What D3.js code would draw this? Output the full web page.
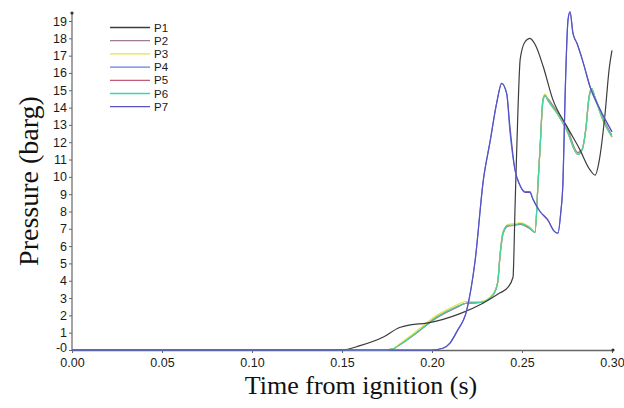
<!DOCTYPE html>
<html>
<head>
<meta charset="utf-8">
<script src="https://cdn.jsdelivr.net/npm/d3@7"></script>
<style>
    body { margin: 0; background: #fff; }
    svg { display: block; }
    .tick text { font-family: Arial, "Liberation Sans", sans-serif; font-size: 12.5px; fill: #1a1a1a; }
    .title { font-family: "Times New Roman", "Liberation Serif", serif; fill: #111; }
</style>
</head>
<body>
<svg id="svg" width="624" height="408"></svg>
<script>
// series names and colours
const seriesNames = ['P1', 'P2', 'P3', 'P4', 'P5', 'P6', 'P7']
const seriesColors = ['#3c3c3c', '#9c7a98', '#e4e43c', '#5a80e0', '#c25a7a', '#3ed6a6', '#5a50c2']

// time samples (s)
const timeP1 = [0, 0.15, 0.16, 0.173, 0.182, 0.188, 0.197, 0.2156, 0.2283, 0.2378, 0.242, 0.245, 0.2462, 0.2478, 0.249, 0.2517, 0.2544, 0.2575, 0.2617, 0.267, 0.275, 0.282, 0.2878, 0.2906, 0.293, 0.296, 0.2985, 0.3]
const timeGreen = [0, 0.172, 0.178, 0.182, 0.1915, 0.2026, 0.2137, 0.219, 0.227, 0.234, 0.2365, 0.2378, 0.2395, 0.2422, 0.2455, 0.2489, 0.2544, 0.2572, 0.259, 0.26, 0.2617, 0.2628, 0.2645, 0.2693, 0.2748, 0.281, 0.2835, 0.2855, 0.2872, 0.2887, 0.2905, 0.2945, 0.3]
const timeBlue = [0, 0.2, 0.206, 0.21, 0.214, 0.2193, 0.224, 0.2285, 0.2322, 0.236, 0.2387, 0.2415, 0.2433, 0.2461, 0.2489, 0.2517, 0.2544, 0.2561, 0.26, 0.2644, 0.268, 0.27, 0.2715, 0.2728, 0.2739, 0.2756, 0.2767, 0.2783, 0.2806, 0.284, 0.2878, 0.2933, 0.3]

// pressure (barg)
const pressureP1 = [0, 0, 0.25, 0.75, 1.3, 1.45, 1.55, 2.1, 2.7, 3.3, 3.6, 4.2, 8.5, 14, 16.8, 17.8, 18.0, 17.6, 16.4, 14.5, 12.9, 11.6, 10.4, 10.1, 11, 13.5, 16.3, 17.3]
const pressureP2 = [0, 0, 0.05, 0.3, 1.0, 1.85, 2.45, 2.7, 2.75, 3.2, 3.9, 5.4, 6.7, 7.15, 7.2, 7.25, 7.0, 6.8, 9.8, 11.6, 14.4, 14.7, 14.5, 13.8, 12.9, 11.4, 11.6, 12.8, 14.5, 15.0, 14.6, 13.5, 12.4]
const pressureP3 = [0, 0, 0.05, 0.35, 1.1, 2.0, 2.6, 2.8, 2.8, 3.25, 3.9, 5.5, 6.8, 7.25, 7.3, 7.35, 7.1, 6.85, 9.8, 11.6, 14.5, 14.8, 14.4, 13.7, 12.7, 11.3, 11.6, 12.8, 14.6, 15.1, 14.6, 13.4, 12.3]
const pressureP4 = [0, 0, 0.1, 0.4, 1.1, 2.3, 5.2, 9.8, 12.0, 14.3, 15.4, 14.8, 12.6, 10.4, 9.5, 9.15, 9.15, 8.7, 8.0, 7.5, 6.85, 6.75, 7.9, 9.8, 14.5, 19.1, 19.5, 18.3, 17.7, 16.6, 15.2, 13.9, 12.6]
const pressureP5 = [0, 0, 0.05, 0.3, 1.0, 1.9, 2.5, 2.7, 2.75, 3.2, 3.9, 5.5, 6.8, 7.2, 7.2, 7.3, 7.05, 6.8, 9.8, 11.6, 14.5, 14.7, 14.4, 13.7, 12.7, 11.3, 11.6, 12.8, 14.6, 15.1, 14.6, 13.4, 12.3]
const pressureP6 = [0, 0, 0.05, 0.3, 1.0, 1.9, 2.5, 2.7, 2.75, 3.2, 3.9, 5.5, 6.8, 7.2, 7.2, 7.3, 7.05, 6.8, 9.8, 11.6, 14.5, 14.7, 14.4, 13.7, 12.7, 11.3, 11.6, 12.8, 14.6, 15.1, 14.6, 13.4, 12.3]
const pressureP7 = [0, 0, 0.1, 0.4, 1.1, 2.3, 5.2, 9.8, 12.0, 14.3, 15.4, 14.8, 12.9, 10.4, 9.5, 9.1, 9.1, 8.7, 8.0, 7.5, 6.85, 6.75, 7.9, 9.8, 14.5, 19.1, 19.55, 18.3, 17.7, 16.6, 15.2, 13.9, 12.6]

// tick values
const xTicks = [0, 0.05, 0.1, 0.15, 0.2, 0.25, 0.3]
const yTicks = d3.range(0, 20)

const series = [
    { name: 'P1', t: timeP1, p: pressureP1 },
    { name: 'P2', t: timeGreen, p: pressureP2 },
    { name: 'P3', t: timeGreen, p: pressureP3 },
    { name: 'P4', t: timeBlue, p: pressureP4 },
    { name: 'P5', t: timeGreen, p: pressureP5 },
    { name: 'P6', t: timeGreen, p: pressureP6 },
    { name: 'P7', t: timeBlue, p: pressureP7 },
]

const svg = d3.select('#svg')
const margin = { top: 13, right: 11, bottom: 58, left: 72 }
const width = 624
const height = 408

const xScale = d3.scaleLinear()
    .domain([0, 0.3])
    .range([margin.left, width - margin.right - 1])

const yScale = d3.scaleLinear()
    .domain([0, 19])
    .range([350, 21])

const axisColor = '#666'

// Axes
const xAxis = svg.append('g')
    .attr('transform', `translate(0,350)`)
    .call(d3.axisBottom(xScale).tickValues(xTicks).tickFormat(d3.format('.2f')).tickSize(3).tickSizeOuter(0).tickPadding(5))
xAxis.select('.domain').attr('stroke', axisColor).attr('stroke-width', 1.5)
xAxis.selectAll('.tick line').attr('stroke', axisColor)

const yAxis = svg.append('g')
    .attr('transform', `translate(${margin.left},0)`)
    .call(d3.axisLeft(yScale).tickValues(yTicks).tickFormat((d) => d === 0 ? '-0' : d).tickSize(3).tickSizeOuter(0).tickPadding(2))
yAxis.select('.domain').remove()
yAxis.selectAll('.tick line').attr('stroke', axisColor)
yAxis.selectAll('.tick').filter((d) => d === 0).select('text').attr('dy', '0.1em')
yAxis.append('line')
    .attr('y1', 350).attr('y2', margin.top)
    .attr('stroke', axisColor).attr('stroke-width', 1.2)

// little end markers
svg.append('circle').attr('cx', margin.left).attr('cy', margin.top).attr('r', 1.6).attr('fill', '#333')
svg.append('circle').attr('cx', xScale(0.3) + 1).attr('cy', 350).attr('r', 1.6).attr('fill', '#333')

// Lines
const line = d3.line()
    .x((d) => xScale(d[0]))
    .y((d) => yScale(d[1]))
    .curve(d3.curveMonotoneX)

const drawOrder = ['P2', 'P5', 'P3', 'P6', 'P1', 'P4', 'P7']
drawOrder.forEach((name) => {
    const s = series.find((e) => e.name === name)
    const i = seriesNames.indexOf(name)
    svg.append('path')
        .datum(s.t.map((t, k) => [t, s.p[k]]))
        .attr('fill', 'none')
        .attr('stroke', seriesColors[i])
        .attr('stroke-width', 1.2)
        .attr('d', line)
})

// Legend
const legend = svg.append('g').attr('transform', 'translate(110,27.5)')
seriesNames.forEach((name, i) => {
    const row = legend.append('g').attr('transform', `translate(0,${i * 13.2})`)
    row.append('line')
        .attr('x1', 0).attr('x2', 40)
        .attr('stroke', seriesColors[i])
        .attr('stroke-width', 1.3)
    row.append('text')
        .attr('x', 44)
        .attr('dy', '0.35em')
        .style('font-family', 'Arial, "Liberation Sans", sans-serif')
        .style('font-size', '11.5px')
        .attr('fill', '#1a1a1a')
        .text(name)
})

// Titles
svg.append('text')
    .attr('class', 'title')
    .attr('x', 361)
    .attr('y', 394)
    .attr('text-anchor', 'middle')
    .style('font-size', '26px')
    .text('Time from ignition (s)')

svg.append('text')
    .attr('class', 'title')
    .attr('transform', 'translate(38,181) rotate(-90)')
    .attr('text-anchor', 'middle')
    .style('font-size', '28px')
    .text('Pressure (barg)')
</script>
</body>
</html>
